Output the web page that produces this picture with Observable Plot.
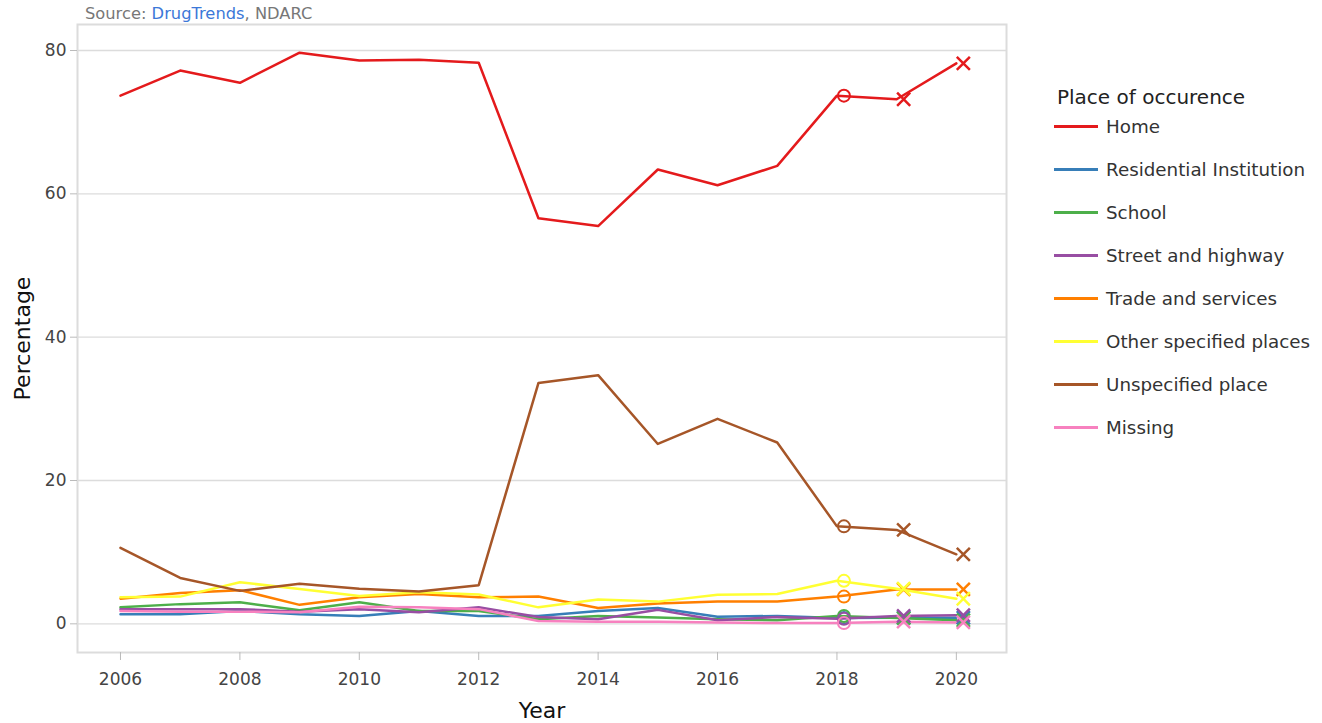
<!DOCTYPE html>
<html>
<head>
<meta charset="utf-8">
<script src="https://cdn.jsdelivr.net/npm/d3@7"></script>
<script src="https://cdn.jsdelivr.net/npm/@observablehq/plot@0.6"></script>
<style>
  body { margin: 0; background: #fff; font-family: "DejaVu Sans", sans-serif; }
  #wrap { position: relative; width: 1322px; height: 723px; }
  #source { position: absolute; left: 85px; top: 5px; font-size: 16.3px; line-height: 18px; color: #777; }
  #source span { color: #3c78d8; }
  #legend { position: absolute; left: 1054px; top: 84px; }
  #legend .title { font-size: 20px; color: #222; margin-left: 3px; height: 21px; line-height: 26px; }
  #legend .item { height: 43px; display: flex; align-items: center; font-size: 18.3px; color: #333; }
  #legend .sw { width: 44px; height: 3px; margin-right: 8px; }
</style>
</head>
<body>
<div id="wrap">
  <div id="chart"></div>
  <div id="source">Source: <span>DrugTrends</span>, NDARC</div>
  <div id="legend"></div>
</div>
<script>
const years = [2006, 2007, 2008, 2009, 2010, 2011, 2012, 2013, 2014, 2015, 2016, 2017, 2018, 2019, 2020];

const places = ["Home", "Residential Institution", "School", "Street and highway",
  "Trade and services", "Other specified places", "Unspecified place", "Missing"];
const colors = ["#e41a1c", "#377eb8", "#4daf4a", "#984ea3", "#ff7f00", "#ffff33", "#a65628", "#f781bf"];

const home        = [73.7, 77.2, 75.5, 79.7, 78.6, 78.7, 78.3, 56.6, 55.5, 63.4, 61.2, 63.9, 73.7, 73.2, 78.2];
const residential = [1.35, 1.35, 1.8, 1.35, 1.1, 1.8, 1.1, 1.1, 1.8, 2.2, 1.0, 1.1, 0.8, 0.85, 0.85];
const school      = [2.3, 2.75, 3.0, 1.9, 3.0, 1.8, 1.8, 0.65, 1.1, 0.9, 0.65, 0.5, 1.1, 0.8, 0.5];
const street      = [2.05, 2.05, 2.05, 1.7, 2.05, 1.6, 2.3, 0.95, 0.65, 1.95, 0.5, 0.95, 0.7, 1.1, 1.2];
const trade       = [3.5, 4.3, 4.7, 2.65, 3.7, 4.15, 3.7, 3.8, 2.2, 2.85, 3.1, 3.1, 3.8, 4.8, 4.8];
const other       = [3.7, 3.8, 5.8, 4.85, 3.9, 4.4, 4.1, 2.3, 3.4, 3.1, 4.05, 4.15, 6.0, 4.9, 3.5];
const unspecified = [10.6, 6.4, 4.6, 5.6, 4.9, 4.5, 5.4, 33.6, 34.7, 25.1, 28.6, 25.3, 13.6, 13.1, 9.7];
const missing     = [1.8, 1.7, 1.7, 1.6, 2.4, 2.3, 2.05, 0.4, 0.3, 0.3, 0.2, 0.1, 0.1, 0.3, 0.2];

const yTicks = [0, 20, 40, 60, 80];
const xTicks = [2006, 2008, 2010, 2012, 2014, 2016, 2018, 2020];

const series = [home, residential, school, street, trade, other, unspecified, missing];
const data = [];
series.forEach((vals, i) => {
  vals.forEach((v, j) => data.push({ year: years[j], value: v, place: places[i] }));
});

const chart = Plot.plot({
  width: 1322,
  height: 723,
  marginLeft: 77,
  marginRight: 316,
  marginTop: 24,
  marginBottom: 71,
  style: { fontFamily: "DejaVu Sans", fontSize: "17px", background: "#fff" },
  x: { domain: [2005.28, 2020.84], label: null },
  y: { domain: [-4.0, 83.63], label: null },
  color: { domain: places, range: colors },
  marks: [
    Plot.gridY(yTicks, { stroke: "#dcdcdc", strokeOpacity: 1, strokeWidth: 1.3 }),
    Plot.frame({ stroke: "#dcdcdc", strokeWidth: 2 }),
    Plot.axisY(yTicks, { tickSize: 7, tickPadding: 4, stroke: "#bbb", fill: "#444", label: null }),
    Plot.axisX(xTicks, { tickSize: 8, tickPadding: 12, stroke: "#bbb", fill: "#444", tickFormat: "d", label: null }),
    Plot.line(data, { x: "year", y: "value", z: "place", stroke: "place", strokeWidth: 2.5 }),
    Plot.dot(data.filter(d => d.year === 2018), {
      x: "year", y: "value", stroke: "place", symbol: "circle", r: 6, strokeWidth: 2, fill: "none", dx: 7
    }),
    Plot.dot(data.filter(d => d.year >= 2019), {
      x: "year", y: "value", stroke: "place", symbol: "times", r: 6, strokeWidth: 2.5, fill: "none", dx: 7
    }),
    Plot.text(["Percentage"], { frameAnchor: "left", textAnchor: "middle", dx: -55, rotate: -90, text: d => d, fontSize: 22, fill: "#111" }),
    Plot.text(["Year"], { frameAnchor: "bottom", dy: 65, text: d => d, fontSize: 22, fill: "#111" })
  ]
});

document.getElementById("chart").append(chart);

const legend = d3.select("#legend");
legend.append("div").attr("class", "title").text("Place of occurence");
places.forEach((p, i) => {
  const item = legend.append("div").attr("class", "item");
  item.append("div").attr("class", "sw").style("background", colors[i]);
  item.append("div").text(p);
});
</script>
</body>
</html>
